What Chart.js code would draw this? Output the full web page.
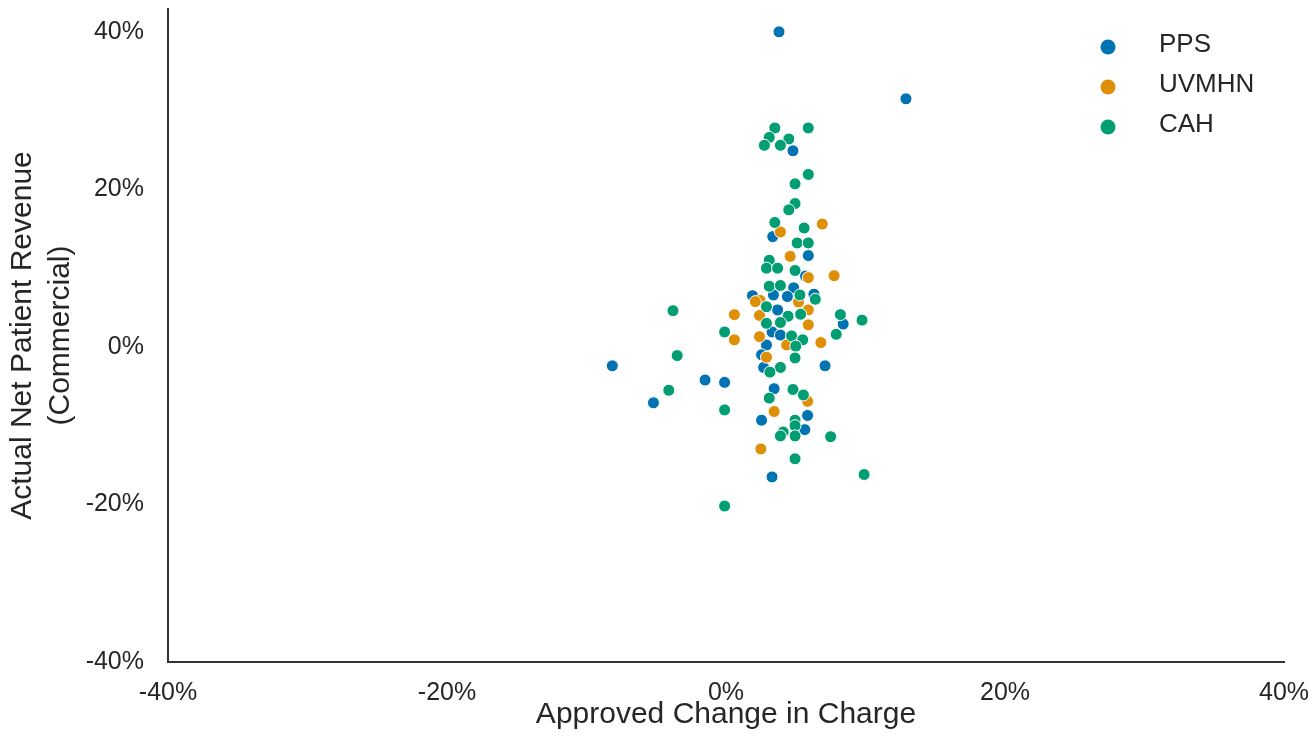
<!DOCTYPE html>
<html lang="en">

<head>
  <meta charset="UTF-8">
  <title>Approved Change in Charge vs Actual NPR</title>
  <script src="https://cdn.jsdelivr.net/npm/chart.js"></script>
  <style>
    html, body {
      margin: 0;
      padding: 0;
      background: #fff;
    }

    #chart-container {
      width: 1311px;
      height: 742px;
    }
  </style>
</head>

<body>
  <div id="chart-container">
    <canvas id="npScatter"></canvas>
  </div>

  <script>
    // values in percent: [approved change in charge, actual NPR (commercial)]
    const ppsPoints = [
      [3.8, 40.0], [12.9, 31.5], [4.8, 24.9], [3.35, 14.0], [5.9, 11.6], [5.7, 9.0],
      [4.85, 7.5], [1.9, 6.5], [3.4, 6.6], [4.4, 6.4], [6.3, 6.7], [3.7, 4.7],
      [8.4, 2.9], [3.3, 1.9], [3.9, 1.5], [4.7, 0.75], [2.9, 0.25], [2.55, -1.0],
      [2.7, -2.6], [7.1, -2.4], [-8.15, -2.4], [-1.5, -4.2], [-0.1, -4.5], [-5.2, -7.1],
      [3.45, -5.3], [2.55, -9.3], [5.85, -8.7], [5.65, -10.5], [3.3, -16.5]
    ];
    const uvmhnPoints = [
      [3.9, 14.6], [6.9, 15.6], [4.6, 11.5], [5.9, 8.8], [7.75, 9.05], [2.45, 5.9],
      [2.1, 5.75], [5.2, 5.7], [5.9, 4.7], [0.6, 4.1], [2.4, 4.0], [5.9, 2.8],
      [0.6, 0.9], [2.4, 1.3], [6.8, 0.55], [4.35, 0.25], [2.9, -1.3], [5.85, -6.9],
      [3.45, -8.2], [2.5, -12.95]
    ];
    const cahPoints = [
      [3.5, 27.8], [5.9, 27.8], [3.1, 26.6], [4.5, 26.4], [2.75, 25.6], [3.9, 25.6],
      [5.9, 21.9], [4.95, 20.7], [4.95, 18.2], [4.5, 17.4], [3.5, 15.8], [5.6, 15.1],
      [5.1, 13.2], [5.9, 13.2], [3.1, 11.0], [2.9, 10.0], [3.7, 10.0], [4.95, 9.7],
      [3.1, 7.7], [3.9, 7.8], [6.4, 6.05], [5.3, 6.6], [2.9, 5.1], [4.45, 3.9],
      [5.35, 4.15], [8.2, 4.1], [9.75, 3.4], [-3.8, 4.6], [2.9, 3.0], [3.9, 3.1],
      [-0.1, 1.9], [4.7, 1.4], [5.5, 0.9], [7.9, 1.6], [5.0, 0.1], [4.95, -1.4],
      [3.9, -2.6], [3.15, -3.2], [-3.5, -1.1], [-4.1, -5.5], [4.8, -5.4], [5.55, -6.1],
      [3.1, -6.5], [-0.1, -8.0], [4.95, -9.3], [4.95, -10.0], [4.1, -10.8], [3.9, -11.3],
      [4.95, -11.3], [7.5, -11.4], [4.95, -14.2], [9.9, -16.2], [-0.1, -20.2]
    ];

    const seriesNames = ["PPS", "UVMHN", "CAH"];
    const xTicks = [-40, -20, 0, 20, 40];
    const yTicks = [-40, -20, 0, 20, 40];

    const colors = ["#0173B2", "#DE8F05", "#029E73"];
    const textColor = "#262626";
    const fontFamily = "'Liberation Sans', Arial, sans-serif";

    const toXY = pts => pts.map(p => ({ x: p[0], y: p[1] }));

    const datasets = [ppsPoints, uvmhnPoints, cahPoints].map((pts, i) => ({
      label: seriesNames[i],
      data: toXY(pts),
      backgroundColor: colors[i],
      borderColor: "#ffffff",
      borderWidth: 1,
      pointRadius: 6,
      pointHoverRadius: 6,
      order: 2 - i
    }));

    // no extra room for the end tick labels, layout.padding decides the plot box
    const noEdgePadding = s => {
      s.paddingTop = 0;
      s.paddingBottom = 0;
      s.paddingLeft = 0;
      s.paddingRight = 0;
    };

    // legend drawn inside the plot, top right (like seaborn)
    const insideLegend = {
      id: 'insideLegend',
      afterDraw(chart) {
        const { ctx, chartArea } = chart;
        ctx.save();
        ctx.font = `26px ${fontFamily}`;
        ctx.textBaseline = 'middle';
        ctx.textAlign = 'left';
        chart.data.datasets.forEach((ds, i) => {
          const y = chartArea.top + 36 + i * 40;
          ctx.beginPath();
          ctx.arc(chartArea.right - 176, y + 2, 7.5, 0, Math.PI * 2);
          ctx.fillStyle = ds.backgroundColor;
          ctx.fill();
          ctx.fillStyle = textColor;
          ctx.fillText(ds.label, chartArea.right - 125, y);
        });
        ctx.restore();
      }
    };

    const ctx = document.getElementById('npScatter').getContext('2d');
    const npScatter = new Chart(ctx, {
      type: 'scatter',
      data: { datasets: datasets },
      options: {
        responsive: true,
        maintainAspectRatio: false,
        animation: false,
        layout: {
          padding: { top: 9, right: 27, bottom: 0, left: 0 }
        },
        plugins: {
          legend: { display: false },
          tooltip: {
            callbacks: {
              label: c => `${c.dataset.label}: (${c.parsed.x}%, ${c.parsed.y}%)`
            }
          }
        },
        scales: {
          x: {
            type: 'linear',
            min: -40,
            max: 40,
            grid: { display: false, drawTicks: false },
            border: { display: true, color: '#333333', width: 2 },
            afterBuildTicks: s => { s.ticks = xTicks.map(v => ({ value: v })); },
            afterFit: s => { s.height = 80; noEdgePadding(s); },
            ticks: {
              padding: 16,
              color: textColor,
              font: { family: fontFamily, size: 25 },
              callback: v => v + '%'
            },
            title: {
              display: true,
              text: 'Approved Change in Charge',
              color: textColor,
              font: { family: fontFamily, size: 30 },
              padding: { top: 0, bottom: 9 }
            }
          },
          y: {
            type: 'linear',
            min: -40,
            max: 42.9,
            grid: { display: false, drawTicks: false },
            border: { display: true, color: '#333333', width: 2 },
            afterBuildTicks: s => { s.ticks = yTicks.map(v => ({ value: v })); },
            afterFit: s => { s.width = 168; noEdgePadding(s); },
            ticks: {
              padding: 24,
              color: textColor,
              font: { family: fontFamily, size: 25 },
              callback: v => v + '%'
            },
            title: {
              display: true,
              text: ['Actual Net Patient Revenue', '(Commercial)'],
              color: textColor,
              font: { family: fontFamily, size: 30, lineHeight: 1.27 },
              padding: { top: 4, bottom: 0 }
            }
          }
        }
      },
      plugins: [insideLegend]
    });
  </script>

</body>

</html>
